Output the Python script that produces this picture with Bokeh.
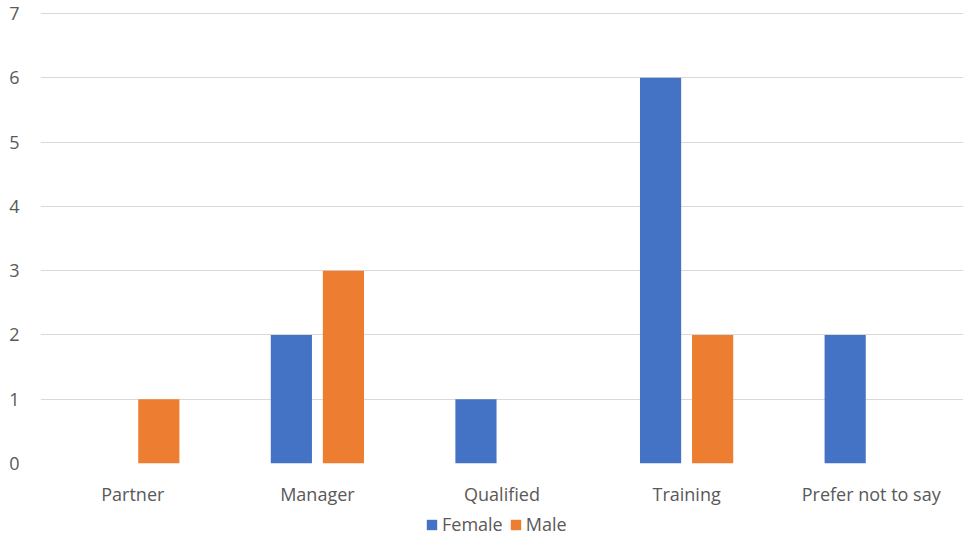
from bokeh.plotting import figure
from bokeh.models import ColumnDataSource, FactorRange, Range1d, FixedTicker, Legend, LegendItem
from bokeh.layouts import column
from bokeh.transform import dodge
from bokeh.embed import file_html
from bokeh.resources import INLINE

categories = ["Partner", "Manager", "Qualified", "Training", "Prefer not to say"]
female = [0, 2, 1, 6, 2]
male = [1, 3, 0, 2, 0]
y_ticks = [0, 1, 2, 3, 4, 5, 6, 7]
series_names = ["Female", "Male"]
series_keys = ["female", "male"]
series_colors = ["#4472C4", "#ED7D31"]
offsets = [-0.141, 0.141]

FONT = "Open Sans"
TXT = "#595959"
FS = "18px"

src = ColumnDataSource(data=dict(cat=categories, female=female, male=male))

p = figure(x_range=FactorRange(*categories, range_padding=0), y_range=Range1d(0, 7.015),
           width=963, height=508, output_backend="svg", toolbar_location=None,
           min_border_left=40, min_border_right=0, min_border_top=12, min_border_bottom=0)
p.outline_line_color = None
p.background_fill_color = "white"

for key, col, off in zip(series_keys, series_colors, offsets):
    p.vbar(x=dodge("cat", off, range=p.x_range), top=key, width=0.223, source=src,
           fill_color=col, line_color=None)

p.yaxis.ticker = FixedTicker(ticks=y_ticks)
p.yaxis.axis_line_color = None
p.yaxis.major_tick_line_color = None
p.yaxis.minor_tick_line_color = None
p.yaxis.major_label_standoff = 15
p.yaxis.major_label_text_font = FONT
p.yaxis.major_label_text_font_size = FS
p.yaxis.major_label_text_color = TXT

p.xaxis.axis_line_color = None
p.xaxis.major_tick_line_color = None
p.xaxis.minor_tick_line_color = None
p.xaxis.major_label_standoff = 12
p.xaxis.major_label_text_font = FONT
p.xaxis.major_label_text_font_size = FS
p.xaxis.major_label_text_color = TXT

p.xgrid.grid_line_color = None
p.ygrid.grid_line_color = "#D9D9D9"
p.ygrid.grid_line_width = 1
p.ygrid.ticker = FixedTicker(ticks=y_ticks)

# legend strip: same series with zero-width bars out of view, only the legend shows
p2 = figure(width=963, height=28, output_backend="svg", toolbar_location=None,
            x_range=p.x_range, y_range=Range1d(-200, -100),
            x_axis_location=None, y_axis_location=None,
            min_border_left=40, min_border_right=0, min_border_top=0, min_border_bottom=0)
p2.outline_line_color = None
p2.xgrid.grid_line_color = None
p2.ygrid.grid_line_color = None
items = []
for name, key, col, off in zip(series_names, series_keys, series_colors, offsets):
    r = p2.vbar(x=dodge("cat", off, range=p2.x_range), top=key, width=0, source=src,
                fill_color=col, line_color=None)
    items.append(LegendItem(label=name, renderers=[r]))
legend = Legend(items=items, orientation="horizontal", location=(385, 0),
                glyph_width=13, glyph_height=13, label_text_font=FONT,
                label_text_font_size=FS, label_text_color=TXT,
                label_standoff=4, spacing=6, padding=0, margin=0,
                border_line_color=None, background_fill_alpha=0)
p2.add_layout(legend, "center")

layout = column(p, p2, spacing=0)
open("out.html", "w").write(file_html(layout, INLINE))
